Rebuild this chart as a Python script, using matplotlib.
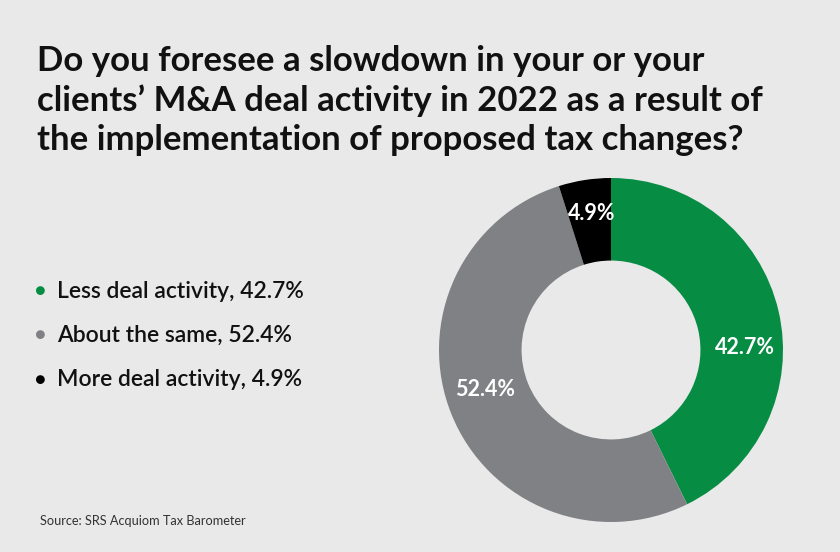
import matplotlib
matplotlib.use("Agg")
import matplotlib.pyplot as plt
import numpy as np

categories = ["Less deal activity", "About the same", "More deal activity"]
values = [42.7, 52.4, 4.9]
colors = ["#078c43", "#808184", "#000000"]
title = "Do you foresee a slowdown in your or your\nclients\u2019 M&A deal activity in 2022 as a result of\nthe implementation of proposed tax changes?"
source = "Source: SRS Acquiom Tax Barometer"

BG = "#e9e9e9"
W, H = 840, 552
fig = plt.figure(figsize=(W / 100, H / 100), dpi=100, facecolor=BG)
plt.rcParams['font.family'] = ['Lato', 'DejaVu Sans']

# Donut: center (611, 350), radius ~172 px
cx, cy, r = 611, 350, 172
ax = fig.add_axes([(cx - r) / W, 1 - (cy + r) / H, 2 * r / W, 2 * r / H])
ax.set_facecolor(BG)
wedges, _ = ax.pie(values, colors=colors, startangle=90, counterclock=False,
                   radius=1.0, wedgeprops=dict(width=0.48, linewidth=0))
ax.set_xlim(-1, 1)
ax.set_ylim(-1, 1)
ax.set_aspect('equal')
ax.axis('off')

# label placement (radius, angle in degrees)
label_pos = [(0.78, 1.0), (0.77, 197.5), (0.80, 98.0)]
for v, (lr, a) in zip(values, label_pos):
    ang = np.deg2rad(a)
    ax.text(lr * np.cos(ang), lr * np.sin(ang), f"{v}%", color="white",
            fontsize=15.5, fontweight="bold", ha="center", va="center")

# Title
fig.text(37 / W, 1 - 45 / H, title, fontsize=25, fontweight="bold",
         color="#111111", ha="left", va="top", linespacing=1.27)

# Legend
ys = [291, 335, 380]
for cat, v, c, y in zip(categories, values, colors, ys):
    fig.text(35 / W, 1 - y / H, "\u25cf", color=c, fontsize=13, ha="left", va="center")
    fig.text(57 / W, 1 - y / H, f"{cat}, {v}%", color="#111111", fontsize=16.5,
             fontweight="semibold", ha="left", va="center")

fig.text(40 / W, 1 - 521 / H, source, fontsize=9.2, color="#333333",
         ha="left", va="center")

fig.savefig("out.png", dpi=100, facecolor=BG)
